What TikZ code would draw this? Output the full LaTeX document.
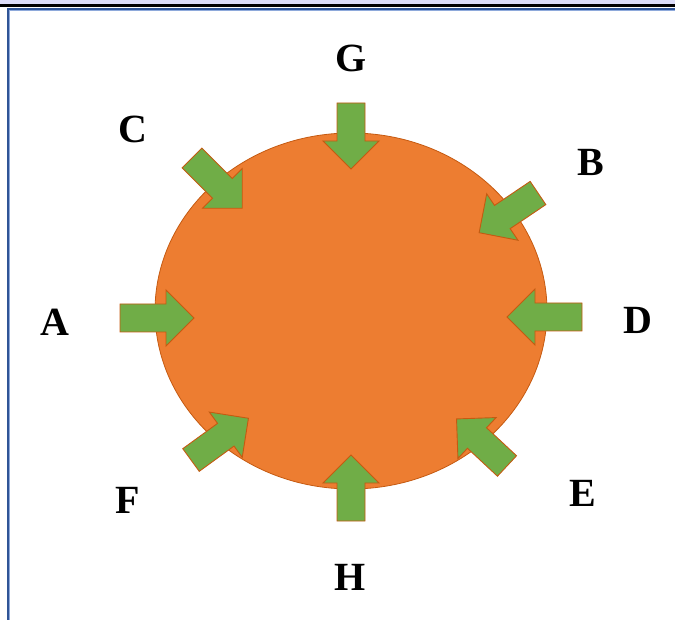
\documentclass[tikz,border=0pt]{standalone}
\usepackage{fontspec}
\setmainfont{Liberation Serif}
\usetikzlibrary{shapes.geometric}
\definecolor{orng}{HTML}{ED7D31}
\definecolor{orngdark}{HTML}{C55A11}
\definecolor{grn}{HTML}{70AD47}
\definecolor{lav}{HTML}{DCDCF8}
\definecolor{frameblue}{HTML}{2F5496}
\definecolor{framelight}{HTML}{8EA9DB}
\tikzset{
  arrowshape/.style={fill=grn, draw=orngdark, line width=0.9pt, line join=miter},
  lbl/.style={font=\fontsize{40}{40}\selectfont\bfseries, inner sep=0pt},
  pics/bigarrow/.style={code={
    \draw[arrowshape] (0,-14) -- (#1-28,-14) -- (#1-28,-28) -- (#1,0)
      -- (#1-28,28) -- (#1-28,14) -- (0,14) -- cycle;}}
}
\begin{document}
\begin{tikzpicture}[x=1pt,y=-1pt]
\useasboundingbox (0,0) rectangle (675,620);
% frame
\fill[lav] (0,0) rectangle (675,4);
\fill[black] (0,4) rectangle (675,6.6);
\fill[frameblue] (6.5,7.8) rectangle (675,10.2);
\fill[framelight] (9,10.2) rectangle (675,11.3);
\fill[frameblue] (6.5,7.8) rectangle (8.9,620);
\fill[framelight] (8.9,10.2) rectangle (10,620);
% ellipse
\node[draw=orngdark, fill=orng, line width=0.8pt, ellipse, minimum width=392pt, minimum height=356pt, inner sep=0pt] (body) at (351,311) {};
% arrows
\pic[rotate=0] at (120,318) {bigarrow=74};
\pic[rotate=180] at (582,317) {bigarrow=75};
\pic[rotate=-90] at (351,103) {bigarrow=66};
\pic[rotate=90] at (351,521) {bigarrow=66};
\pic[rotate=-45] at (192,158) {bigarrow=71};
\pic[rotate=-146] at (538,193) {bigarrow=71};
\pic[rotate=36] at (191,460) {bigarrow=71};
\pic[rotate=137] at (507,466) {bigarrow=69};
% labels
\node[lbl] (G) at (351,58) {G};
\node[lbl] (C) at (133,129) {C};
\node[lbl] (B) at (591,162) {B};
\node[lbl] (A) at (55,322) {A};
\node[lbl] (D) at (638,320) {D};
\node[lbl] (F) at (128,500) {F};
\node[lbl] (E) at (583,493) {E};
\node[lbl] (H) at (350,577) {H};
\end{tikzpicture}
\end{document}
